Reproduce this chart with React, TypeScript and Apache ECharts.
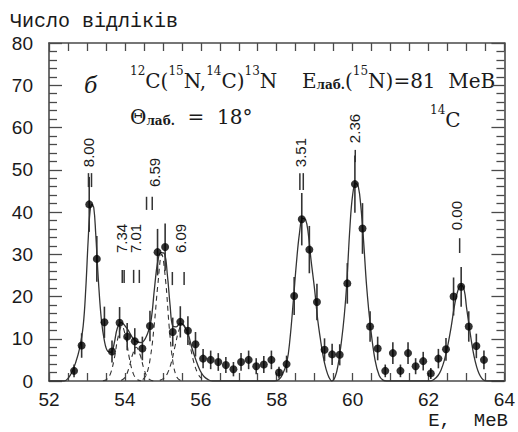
import React, { useEffect, useRef } from "react";
import * as echarts from "echarts";

// Measured spectrum (energy in MeV, counts, statistical error)
const energies = [52.66, 52.86, 53.06, 53.26, 53.46, 53.66, 53.86, 54.06, 54.26, 54.46, 54.66, 54.86, 55.06, 55.26, 55.46, 55.66, 55.86, 56.06, 56.26, 56.46, 56.66, 56.86, 57.06, 57.26, 57.46, 57.66, 57.86, 58.06, 58.26, 58.46, 58.66, 58.86, 59.06, 59.26, 59.46, 59.66, 59.86, 60.06, 60.26, 60.46, 60.66, 60.86, 61.06, 61.26, 61.46, 61.66, 61.86, 62.06, 62.26, 62.46, 62.66, 62.86, 63.06, 63.26, 63.46];
const counts = [2.4, 8.4, 41.8, 28.9, 13.9, 7.0, 13.8, 10.5, 9.4, 7.7, 13.0, 30.5, 31.7, 11.6, 14.0, 11.9, 8.7, 5.3, 5.0, 4.5, 3.8, 2.8, 4.5, 5.0, 3.5, 3.9, 5.0, 2.0, 4.0, 20.1, 38.3, 31.1, 18.7, 7.4, 6.3, 6.2, 23.1, 46.6, 36.1, 12.9, 7.7, 2.4, 6.6, 2.4, 6.6, 3.5, 4.7, 1.8, 5.3, 7.5, 20.0, 22.3, 12.9, 8.3, 5.0];
const errors = [1.5, 2.9, 6.5, 5.4, 3.7, 2.6, 3.7, 3.2, 3.1, 2.8, 3.6, 5.5, 5.6, 3.4, 3.7, 3.4, 2.9, 2.3, 2.2, 2.1, 1.9, 1.7, 2.1, 2.2, 1.9, 2.0, 2.2, 1.4, 2.0, 4.5, 6.2, 5.6, 4.3, 2.7, 2.5, 2.5, 4.8, 6.8, 6.0, 3.6, 2.8, 1.5, 2.6, 1.5, 2.6, 1.9, 2.2, 1.3, 2.3, 2.7, 4.5, 4.7, 3.6, 2.9, 2.2];

// Total fit curve
const fitE = [52.0, 52.4, 52.5, 52.6, 52.7, 52.8, 52.9, 52.97, 53.03, 53.08, 53.13, 53.18, 53.23, 53.3, 53.38, 53.46, 53.55, 53.64, 53.72, 53.8, 53.9, 54.05, 54.25, 54.43, 54.6, 54.69, 54.78, 54.86, 54.95, 55.04, 55.12, 55.19, 55.26, 55.35, 55.46, 55.56, 55.66, 55.76, 55.87, 55.98, 56.09, 56.2, 56.3, 57.95, 58.05, 58.15, 58.27, 58.35, 58.44, 58.52, 58.6, 58.68, 58.76, 58.83, 58.9, 59.0, 59.08, 59.15, 59.22, 59.3, 59.38, 59.45, 59.54, 59.62, 59.71, 59.78, 59.84, 59.93, 60.0, 60.08, 60.15, 60.22, 60.29, 60.37, 60.47, 60.59, 60.7, 60.8, 60.9, 62.05, 62.15, 62.25, 62.33, 62.42, 62.5, 62.6, 62.68, 62.77, 62.86, 62.94, 63.0, 63.06, 63.12, 63.2, 63.27, 63.33, 63.4, 63.48, 63.55, 64.0];
const fitV = [0, 0, 0.6, 2, 4.3, 7.5, 13, 22, 33, 40, 41.8, 41, 35, 24, 14.5, 9.5, 7, 6.8, 9, 12.5, 13.8, 12.5, 9.7, 9.1, 11.3, 14.4, 22, 28, 30.4, 30.2, 25, 18, 13, 12.8, 13.7, 13, 11.3, 8, 5, 2.5, 1, 0.3, 0, 0, 0.3, 1.5, 4.6, 10, 19.2, 28, 35, 38.5, 38.2, 35, 29, 21.5, 14.5, 10, 6, 2.8, 0.8, 0, 1, 4, 9.7, 15.5, 22.3, 36.5, 44, 46.8, 46, 41, 33, 22.3, 12.9, 5, 1.3, 0.2, 0, 0, 0.4, 1.3, 2.6, 5, 8.1, 13, 17.6, 21.3, 22.7, 21.5, 17.5, 13.7, 10, 5.8, 3.3, 1.8, 0.7, 0.1, 0, 0];

// Individual components (dashed)
const comp734E = [53.42, 53.52, 53.62, 53.72, 53.82, 53.92, 54.02, 54.12, 54.22, 54.32, 54.42];
const comp734V = [0.05, 0.36, 1.76, 5.3, 10.4, 13, 10.4, 5.3, 1.76, 0.36, 0.05];
const comp701E = [53.9, 54.0, 54.1, 54.2, 54.3, 54.4, 54.5, 54.6, 54.7, 54.8];
const comp701V = [0.14, 0.8, 2.9, 6.2, 8, 6.2, 2.9, 0.8, 0.14, 0];
const comp659E = [54.47, 54.57, 54.67, 54.77, 54.87, 54.97, 55.07, 55.17, 55.27, 55.37, 55.47];
const comp659V = [0.3, 1.6, 5.5, 13, 23, 30, 24, 12.5, 4.2, 0.9, 0.1];
const comp609E = [54.92, 55.02, 55.12, 55.22, 55.32, 55.42, 55.52, 55.62, 55.72, 55.82, 55.92, 56.02, 56.12];
const comp609V = [0.15, 0.6, 1.8, 4.3, 8.2, 11.9, 13.5, 11.9, 8.2, 4.3, 1.8, 0.6, 0.15];

// Level annotations
const levelLabels = ["8.00", "7.34", "7.01", "6.59", "6.09", "3.51", "2.36", "0.00"];
const levelTextE = [53.03, 53.91, 54.28, 54.78, 55.46, 58.63, 60.04, 62.74];
const levelTextY = [50.6, 30.3, 30.3, 45.9, 30.3, 50.6, 56.3, 35.7];
const levelMarkE = [[53.04, 53.12], [53.93, 53.98], [54.23, 54.38], [54.57, 54.72], [55.25, 55.56], [58.61, 58.7], [60.07], [62.82]];
const levelMarkTop = [49.2, 26.3, 26.3, 43.6, 25.8, 49.2, 54.7, 33.8];
const levelMarkBottom = [45.9, 23.2, 23.2, 40.5, 22.7, 45.2, 51.8, 30.3];

const xTicks = { min: 52, max: 64, interval: 2 };
const yTicks = { min: 0, max: 80, interval: 10 };

const AXIS = "#4a4a4a";
const INK = "#1a1a1a";

export default function App() {
  const ref = useRef<HTMLDivElement>(null);
  useEffect(() => {
    if (!ref.current) return;
    const chart = echarts.init(ref.current, null, { renderer: "svg" });
    const pair = (xs: number[], ys: number[]) => xs.map((x, i) => [x, ys[i]]);

    const xAxisBase = (pos: string, showLabel: boolean) => ({
      type: "value",
      position: pos,
      min: xTicks.min,
      max: xTicks.max,
      interval: xTicks.interval,
      axisLine: { show: true, onZero: false, lineStyle: { color: AXIS, width: 1.6 } },
      axisTick: { show: true, inside: true, length: 8, lineStyle: { color: AXIS, width: 1.3 } },
      minorTick: { show: true, splitNumber: 4, length: 8, lineStyle: { color: AXIS, width: 1.3 } },
      splitLine: { show: false },
      axisLabel: { show: showLabel, fontSize: 19, color: INK, margin: 9, fontFamily: "Liberation Sans" },
    });
    const yAxisBase = (pos: string, showLabel: boolean) => ({
      type: "value",
      position: pos,
      min: yTicks.min,
      max: yTicks.max,
      interval: yTicks.interval,
      axisLine: { show: true, onZero: false, lineStyle: { color: AXIS, width: 1.6 } },
      axisTick: { show: true, inside: true, length: 13, lineStyle: { color: AXIS, width: 1.3 } },
      minorTick: { show: true, splitNumber: 5, length: 8, lineStyle: { color: AXIS, width: 1.3 } },
      splitLine: { show: false },
      axisLabel: { show: showLabel, fontSize: 19, color: INK, margin: 16, fontFamily: "Liberation Sans" },
    });

    const serif = "DejaVu Serif";
    const rich = {
      m: { fontFamily: serif, fontSize: 20, lineHeight: 26, verticalAlign: "bottom", fill: INK },
      sup: { fontFamily: serif, fontSize: 12, lineHeight: 14, verticalAlign: "top", fill: INK },
      sub: { fontFamily: serif, fontSize: 12, fontWeight: "bold", lineHeight: 14, verticalAlign: "bottom", fill: INK },
    };

    const dashed = (xs: number[], ys: number[]) => ({
      type: "line",
      data: pair(xs, ys),
      smooth: 0.4,
      showSymbol: false,
      silent: true,
      lineStyle: { color: "#333", width: 1.1, type: [5, 4] },
      z: 2,
    });

    chart.setOption({
      animation: false,
      backgroundColor: "#ffffff",
      grid: { left: 49, right: 11, top: 43, bottom: 51 },
      xAxis: [xAxisBase("bottom", true), xAxisBase("top", false)],
      yAxis: [yAxisBase("left", true), yAxisBase("right", false)],
      graphic: [
        { type: "text", x: 10, y: 21, style: { text: "Число відліків", fontFamily: "Liberation Mono", fontSize: 20, fill: INK, verticalAlign: "middle" } },
        { type: "text", x: 508, y: 421, style: { text: "E,  MeB", fontFamily: "Liberation Mono", fontSize: 19, fill: INK, align: "right", verticalAlign: "middle" } },
        { type: "text", x: 84, y: 85, style: { text: "б", fontFamily: serif, fontStyle: "italic", fontSize: 22, fill: INK, verticalAlign: "middle" } },
        { type: "text", x: 130, y: 78, style: { text: "{sup|12}{m|C(}{sup|15}{m|N,}{sup|14}{m|C)}{sup|13}{m|N}", rich, verticalAlign: "middle" } },
        { type: "text", x: 302, y: 78, style: { text: "{m|E}{sub|лаб.}{m|(}{sup|15}{m|N)=81  MeB}", rich, verticalAlign: "middle" } },
        { type: "text", x: 130, y: 114, style: { text: "{m|Θ}{sub|лаб.}{m|  =  18°}", rich, verticalAlign: "middle" } },
        { type: "text", x: 430, y: 117, style: { text: "{sup|14}{m|C}", rich, verticalAlign: "middle" } },
      ],
      series: [
        {
          type: "line",
          data: pair(fitE, fitV),
          smooth: 0.4,
          showSymbol: false,
          silent: true,
          lineStyle: { color: "#333", width: 1.3 },
          z: 3,
        },
        dashed(comp734E, comp734V),
        dashed(comp701E, comp701V),
        dashed(comp659E, comp659V),
        dashed(comp609E, comp609V),
        {
          type: "custom",
          silent: true,
          data: energies.map((e, i) => [e, counts[i], errors[i]]),
          encode: { x: 0, y: 1 },
          renderItem: (params: any, api: any) => {
            const x = api.value(0), y = api.value(1), e = api.value(2);
            const a = api.coord([x, y + e]);
            const b = api.coord([x, y - e]);
            return { type: "line", shape: { x1: a[0], y1: a[1], x2: b[0], y2: b[1] }, style: { stroke: "#333", lineWidth: 1.6 } };
          },
          z: 4,
        },
        {
          type: "scatter",
          silent: true,
          data: pair(energies, counts),
          symbol: "circle",
          symbolSize: 8,
          itemStyle: { color: "#000" },
          z: 5,
        },
        {
          type: "custom",
          silent: true,
          data: levelTextE.map((e, i) => [e, levelTextY[i], i]),
          encode: { x: 0, y: 1 },
          renderItem: (params: any, api: any) => {
            const i = params.dataIndex;
            const p = api.coord([levelTextE[i], levelTextY[i]]);
            const children: any[] = [
              { type: "text", x: p[0], y: p[1], rotation: Math.PI / 2, style: { text: levelLabels[i], fontSize: 15, fontFamily: "Liberation Sans", fill: INK, align: "left", verticalAlign: "middle" } },
            ];
            levelMarkE[i].forEach((me) => {
              const a = api.coord([me, levelMarkTop[i]]);
              const b = api.coord([me, levelMarkBottom[i]]);
              children.push({ type: "line", shape: { x1: a[0], y1: a[1], x2: b[0], y2: b[1] }, style: { stroke: "#333", lineWidth: 1.5 } });
            });
            return { type: "group", children };
          },
          z: 6,
        },
      ],
    });
    return () => chart.dispose();
  }, []);
  return <div ref={ref} style={{ position: "fixed", left: 0, top: 0, width: 518, height: 432, background: "#fff" }} />;
}
